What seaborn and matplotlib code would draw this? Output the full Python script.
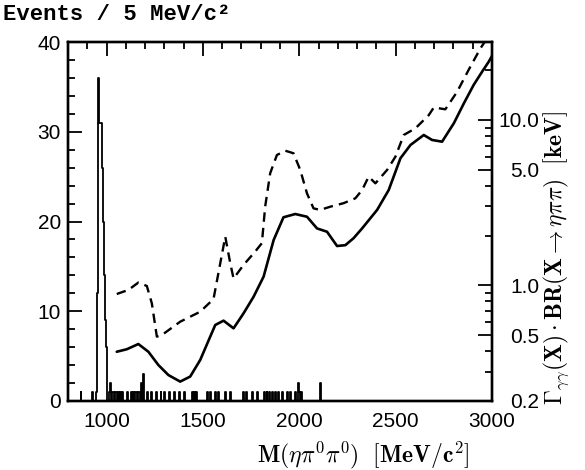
import numpy as np
import pandas as pd
import seaborn as sns
import matplotlib.pyplot as plt
from matplotlib.ticker import MultipleLocator, FixedLocator, FixedFormatter, LogLocator, NullFormatter

# histogram: 5 MeV bins, bin centre and events
hist_mass = [867.5, 927.5, 947.5, 952.5, 957.5, 962.5, 967.5, 972.5, 977.5, 982.5,
             987.5, 992.5, 997.5, 1017.5, 1022.5, 1032.5, 1037.5, 1047.5, 1052.5,
             1062.5, 1072.5, 1082.5, 1107.5, 1127.5, 1137.5, 1142.5, 1152.5, 1157.5,
             1167.5, 1172.5, 1182.5, 1192.5, 1212.5, 1232.5, 1257.5, 1282.5, 1302.5,
             1327.5, 1352.5, 1377.5, 1402.5, 1447.5, 1457.5, 1467.5, 1522.5, 1537.5,
             1567.5, 1582.5, 1617.5, 1642.5, 1712.5, 1727.5, 1757.5, 1782.5, 1817.5,
             1832.5, 1847.5, 1862.5, 1877.5, 1892.5, 1912.5, 1937.5, 1952.5, 1982.5,
             1997.5, 2002.5, 2012.5, 2112.5]
hist_counts = [1, 1, 1, 12, 36, 31, 31, 31, 26, 20,
               14, 9, 6, 1, 2, 1, 1, 1, 1,
               1, 1, 1, 1, 1, 1, 1, 1, 1,
               1, 1, 2, 3, 1, 1, 1, 1, 1,
               1, 1, 1, 1, 1, 1, 1, 1, 1,
               1, 1, 1, 1, 1, 1, 1, 1, 1,
               1, 1, 1, 1, 1, 1, 1, 1, 1,
               2, 1, 1, 2]

# upper limit curves (keV)
solid_mass = [1053, 1105, 1165, 1217, 1269, 1321, 1382, 1434, 1486, 1538, 1564, 1607,
              1659, 1711, 1763, 1815, 1867, 1918, 1979, 2040, 2092, 2144, 2196, 2239,
              2282, 2326, 2404, 2464, 2525, 2577, 2646, 2689, 2741, 2802, 2854, 2905,
              2949, 2983, 3000]
solid_kev = [0.397, 0.411, 0.442, 0.397, 0.330, 0.287, 0.262, 0.281, 0.354, 0.490, 0.576, 0.612,
             0.550, 0.678, 0.854, 1.13, 1.88, 2.58, 2.70, 2.60, 2.21, 2.11, 1.73, 1.75,
             1.93, 2.21, 2.86, 3.77, 5.87, 7.06, 8.11, 7.57, 7.39, 9.55, 12.6, 16.3,
             19.6, 22.5, 24.4]

dashed_mass = [1053, 1113, 1165, 1209, 1235, 1261, 1287, 1382, 1486, 1555, 1590, 1616,
               1642, 1659, 1711, 1771, 1806, 1823, 1849, 1884, 1927, 1970, 2005, 2040,
               2074, 2109, 2161, 2230, 2291, 2326, 2360, 2395, 2456, 2499, 2542, 2603,
               2672, 2698, 2758, 2819, 2879, 2940, 2962]
dashed_kev = [0.887, 0.938, 1.04, 0.992, 0.779, 0.490, 0.501, 0.603, 0.693, 0.827, 1.36, 1.97,
              1.36, 1.10, 1.33, 1.60, 1.80, 2.99, 4.76, 6.14, 6.52, 6.29, 4.99, 3.60,
              2.92, 2.86, 2.99, 3.14, 3.36, 3.77, 4.54, 4.14, 4.99, 6.00, 8.11, 8.91,
              10.7, 11.9, 11.6, 14.8, 20.1, 27.1, 29.6]

right_ticks = [0.2, 0.5, 1.0, 5.0, 10.0]
right_labels = ['0.2', '0.5', '1.0', '5.0', '10.0']

sns.set_style('white')
plt.rcParams['font.family'] = ['Liberation Sans', 'DejaVu Sans']
plt.rcParams['mathtext.fontset'] = 'cm'
for k in ['text.color', 'axes.labelcolor', 'xtick.color', 'ytick.color', 'axes.edgecolor']:
    plt.rcParams[k] = 'black'

fig = plt.figure(figsize=(5.85, 4.7), dpi=100)
ax = fig.add_axes([68/585, 1 - 401/470, (492 - 68)/585, (401 - 42)/470])

hist_df = pd.DataFrame({'mass': hist_mass, 'n': hist_counts})
sns.histplot(data=hist_df, x='mass', weights='n', binwidth=5, binrange=(800, 3000),
             element='step', fill=False, color='black', linewidth=1.3, ax=ax)

ax.set_xlim(800, 3000)
ax.set_ylim(0, 40)
ax.set_xlabel('')
ax.set_ylabel('')
ax.xaxis.set_major_locator(FixedLocator([1000, 1500, 2000, 2500, 3000]))
ax.xaxis.set_minor_locator(MultipleLocator(100))
ax.yaxis.set_major_locator(MultipleLocator(10))
ax.yaxis.set_minor_locator(MultipleLocator(2))
ax.tick_params(which='both', direction='in', top=True, right=False, width=1.3,
               labelsize=15, colors='black')
ax.tick_params(which='major', length=10, pad=8)
ax.tick_params(which='minor', length=5)
ax.tick_params(axis='y', pad=5)
for s in ax.spines.values():
    s.set_linewidth(1.7)
    s.set_color('black')

ax2 = ax.twinx()
sol_df = pd.DataFrame({'mass': solid_mass, 'kev': solid_kev})
das_df = pd.DataFrame({'mass': dashed_mass, 'kev': dashed_kev})
sns.lineplot(data=sol_df, x='mass', y='kev', color='black', linewidth=1.9, ax=ax2)
sns.lineplot(data=das_df, x='mass', y='kev', color='black', linewidth=1.7,
             dashes=False, ax=ax2)
ax2.lines[-1].set_dashes((4, 2.6))
ax2.set_yscale('log')
ax2.set_ylim(0.2, 29.6)
ax2.set_xlim(800, 3000)
ax2.set_ylabel('')
ax2.set_xlabel('')
ax2.yaxis.set_major_locator(FixedLocator(right_ticks))
ax2.yaxis.set_major_formatter(FixedFormatter(right_labels))
ax2.yaxis.set_minor_locator(LogLocator(base=10, subs=np.arange(2, 10)))
ax2.yaxis.set_minor_formatter(NullFormatter())
ax2.tick_params(which='both', direction='in', left=False, width=1.3, labelsize=15,
                colors='black')
ax2.tick_params(which='major', length=10, pad=34)
ax2.tick_params(which='minor', length=5)
for lab in ax2.get_yticklabels():
    lab.set_ha('right')
for s in ax2.spines.values():
    s.set_linewidth(1.7)
    s.set_color('black')

fig.text(3/585, 1 - 14/470, 'Events / 5 MeV/c\u00b2', family='Liberation Mono',
         fontsize=16, fontweight='bold', ha='left', va='center', color='black')
fig.text(363/585, 1 - 455/470,
         r'$\mathbf{M}(\eta\pi^0\pi^0)\ \ [\mathbf{MeV/c}^2]$',
         fontsize=17, ha='center', va='center', color='black')
fig.text(556/585, 1 - 258/470,
         r'$\Gamma_{\gamma\gamma}(\mathbf{X})\cdot\mathbf{BR}(\mathbf{X}\rightarrow\eta\pi\pi)\ \ [\mathbf{keV}]$',
         fontsize=17, rotation=90, ha='center', va='center', color='black')

fig.savefig('out.png', dpi=100)
